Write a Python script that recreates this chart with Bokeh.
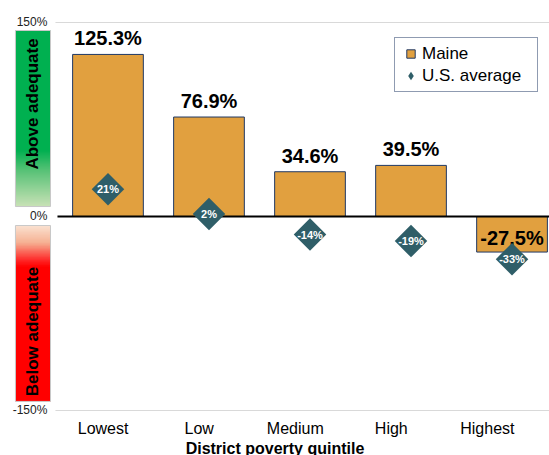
import numpy as np
from bokeh.plotting import figure
from bokeh.models import (ColumnDataSource, Range1d, FixedTicker, Legend, LegendItem,
                          GlobalInlineStyleSheet)
from bokeh.core.properties import value
from bokeh.embed import file_html
from bokeh.resources import INLINE

# ---------------- data ----------------
quintiles = ["Lowest", "Low", "Medium", "High", "Highest"]
maine = [125.3, 76.9, 34.6, 39.5, -27.5]
us_average = [21, 2, -14, -19, -33]
y_tick_values = [150, 0, -150]
y_tick_labels = ["150%", "0%", "-150%"]

# ---------------- style ----------------
FONT_NAME = "Liberation Sans"
FONT = value(FONT_NAME)
BAR = "#E1A03F"
NAVY = "#1F3864"
TEAL = "#2F5E68"
X_LO, X_HI = -1.064, 4.371
Y_LO, Y_HI = -155.42, 167.0

xs = list(range(len(quintiles)))
src = ColumnDataSource(dict(
    x=xs,
    maine=maine,
    us=us_average,
    maine_lbl=[f"{v:.1f}%" for v in maine],
    us_lbl=[f"{v:.0f}%" for v in us_average],
    lbl_off=[-16 if v >= 0 else -14 for v in maine],
))

p = figure(frame_width=549, frame_height=417,
           x_range=Range1d(X_LO, X_HI), y_range=Range1d(Y_LO, Y_HI),
           output_backend="svg", toolbar_location=None,
           y_axis_location=None, min_border=0,
           outline_line_color=None, background_fill_color="white")
p.stylesheets = [GlobalInlineStyleSheet(css="html, body { overflow: hidden; }")]
p.xgrid.visible = False
p.ygrid.visible = False

# left indicator boxes (gradients)
def gradient(stops, n=240):
    ts = np.linspace(0, 1, n)
    tpos = [s[0] for s in stops]
    cols = np.array([s[1] for s in stops], dtype=float)
    rgb = np.stack([np.interp(ts, tpos, cols[:, k]) for k in range(3)], axis=1)
    img = np.empty((n, 1), dtype=np.uint32)
    view = img.view(dtype=np.uint8).reshape((n, 1, 4))
    view[:, 0, 0] = rgb[:, 0]
    view[:, 0, 1] = rgb[:, 1]
    view[:, 0, 2] = rgb[:, 2]
    view[:, 0, 3] = 255
    return img[::-1]  # row 0 is the bottom

box_l, box_r = -0.916, -0.569
green_top, green_bot = 143.8, 7.7
red_top, red_bot = -7.0, -143.0

green_img = gradient([(0.0, (0, 176, 80)), (0.68, (0, 176, 80)), (0.8, (90, 195, 120)),
                      (1.0, (200, 226, 182))])
red_img = gradient([(0.0, (251, 228, 212)), (0.1, (246, 178, 148)), (0.2, (255, 40, 40)),
                    (0.24, (255, 0, 0)), (1.0, (255, 0, 0))])
p.image_rgba(image=[green_img], x=box_l, y=green_bot, dw=box_r - box_l, dh=green_top - green_bot)
p.image_rgba(image=[red_img], x=box_l, y=red_bot, dw=box_r - box_l, dh=red_top - red_bot)
p.quad(left=[box_l, box_l], right=[box_r, box_r], top=[green_top, red_top],
       bottom=[green_bot, red_bot], fill_color=None, line_color="#C8C8C8", line_width=1)
p.text(x=[(box_l + box_r) / 2] * 2, y=[87, -89], text=["Above adequate", "Below adequate"],
       angle=np.pi / 2, text_align="center", text_baseline="middle",
       text_font=FONT, text_font_size="17px", text_font_style="bold", text_color="black")

# y tick labels and reference lines
p.text(x=-0.6, y=y_tick_values, text=y_tick_labels, text_align="right",
       text_baseline="middle", text_font=FONT, text_font_size="12px", text_color="#222222")
p.segment(x0=-0.52, x1=X_HI, y0=[150, -150], y1=[150, -150], line_color="#D9D9D9", line_width=1)

# bars
bars = p.vbar(x="x", top="maine", bottom=0, width=0.7, source=src,
              fill_color=BAR, line_color=NAVY, line_width=1)
p.segment(x0=-0.5, x1=X_HI, y0=0, y1=0, line_color="black", line_width=2)

# bar labels
p.text(x="x", y="maine", text="maine_lbl", source=src, y_offset="lbl_off",
       text_align="center", text_baseline="alphabetic",
       text_font=FONT, text_font_size="20px", text_font_style="bold", text_color="black")

# U.S. average diamonds
p.scatter(x="x", y="us", source=src, marker="square", size=23, angle=np.pi / 4,
          fill_color=TEAL, line_color=None)
p.text(x="x", y="us", text="us_lbl", source=src, text_align="center", text_baseline="middle",
       text_font=FONT, text_font_size="11px", text_font_style="bold", text_color="white")

# legend (glyph-only renderers, nothing drawn in the plot itself)
nan = float("nan")
leg_maine = p.scatter(x=[nan], y=[nan], marker="square", fill_color=BAR, line_color=NAVY,
                      line_width=1)
leg_us = p.scatter(x=[nan], y=[nan], marker="diamond", fill_color=TEAL, line_color=None)
legend = Legend(items=[LegendItem(label="Maine", renderers=[leg_maine]),
                       LegendItem(label="U.S. average", renderers=[leg_us])],
                location=(394, 325), orientation="vertical",
                border_line_color=NAVY, border_line_width=1.5, background_fill_alpha=1,
                padding=5, spacing=1, margin=0, glyph_width=21, glyph_height=21,
                label_height=20, label_width=110, label_standoff=1,
                label_text_font=FONT_NAME, label_text_font_size="17px", label_text_color="black")
p.add_layout(legend)

# x axis
tick_pos = [0.951 * i - 0.048 for i in xs]
p.xaxis.ticker = FixedTicker(ticks=tick_pos)
p.xaxis.major_label_overrides = {t: q for t, q in zip(tick_pos, quintiles)}
p.xaxis.axis_line_color = None
p.xaxis.major_tick_line_color = None
p.xaxis.minor_tick_line_color = None
p.xaxis.major_tick_out = 0
p.xaxis.major_label_standoff = 2
p.xaxis.major_label_text_font = FONT_NAME
p.xaxis.major_label_text_font_size = "16px"
p.xaxis.major_label_text_color = "black"
p.xaxis.axis_label = "District poverty quintile"
p.xaxis.axis_label_standoff = 0
p.xaxis.axis_label_text_font = FONT_NAME
p.xaxis.axis_label_text_font_size = "16px"
p.xaxis.axis_label_text_font_style = "bold"
p.xaxis.axis_label_text_color = "black"

open("out.html", "w").write(file_html(p, INLINE))
